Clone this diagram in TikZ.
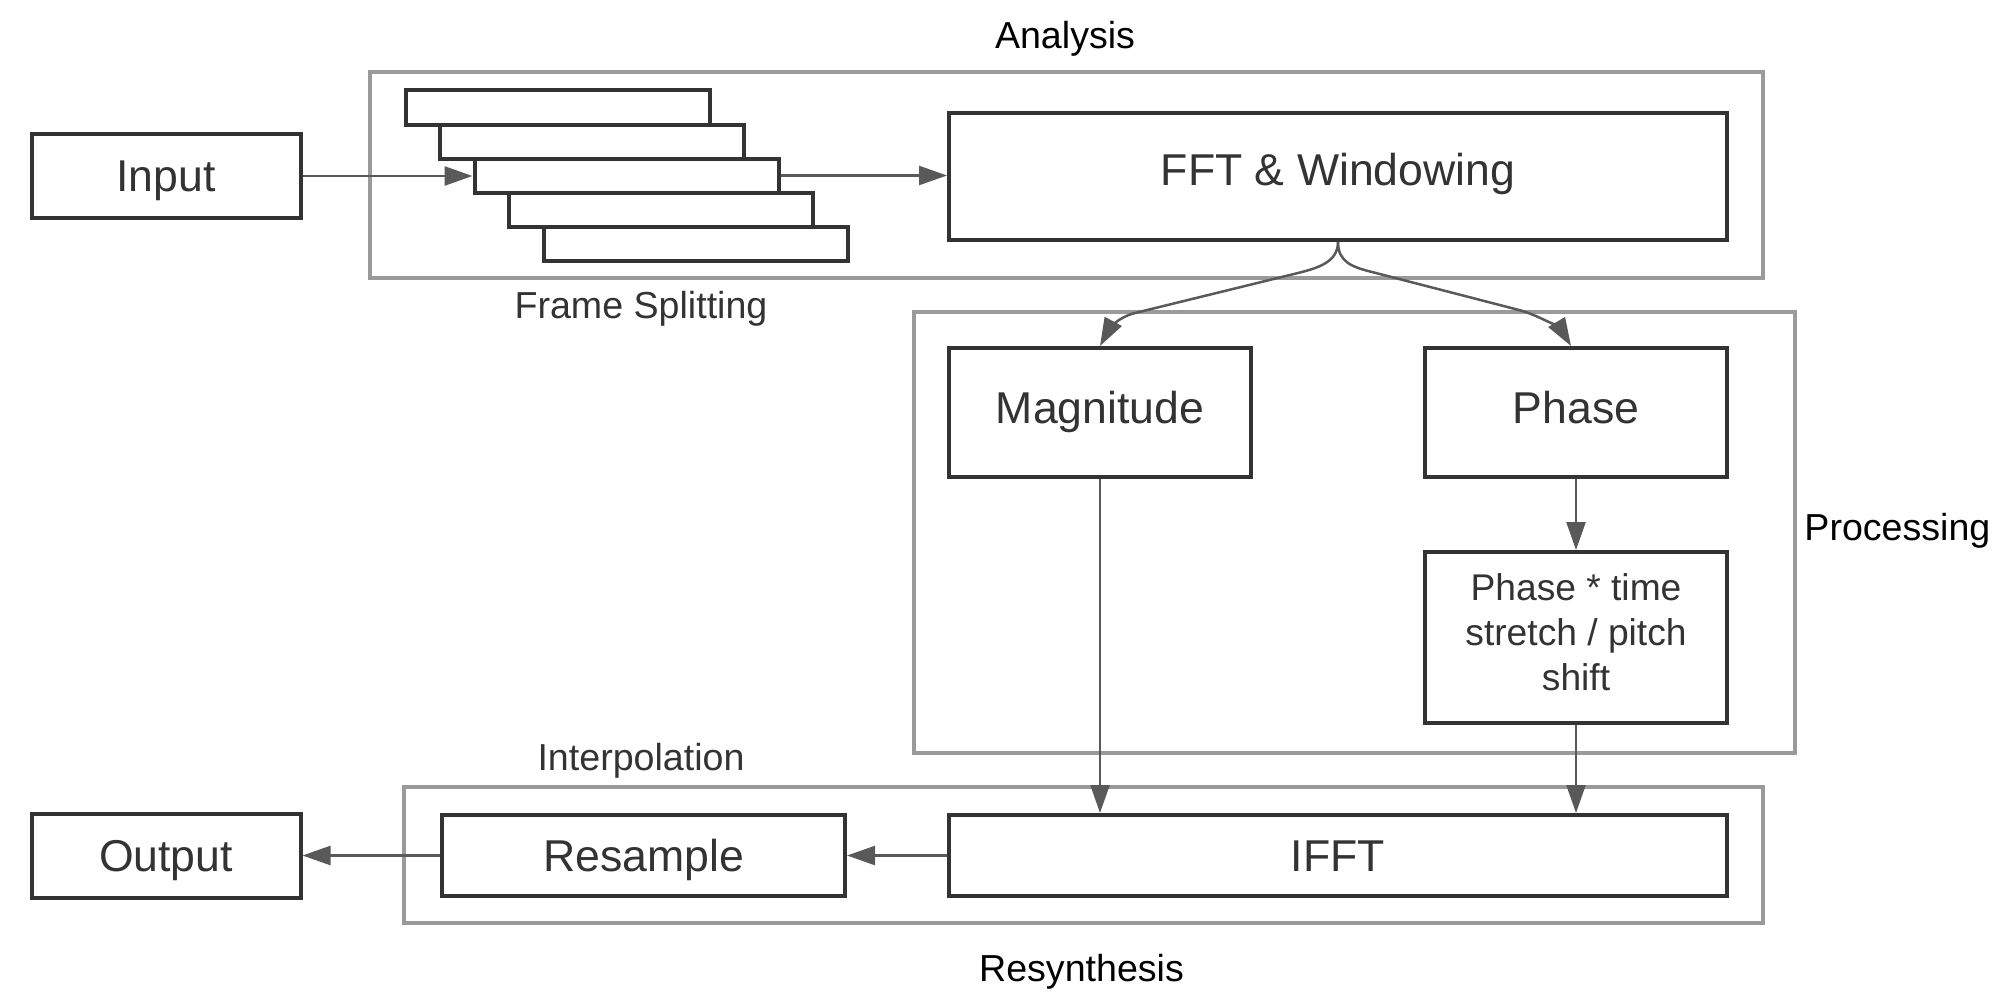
\documentclass[tikz,border=0pt]{standalone}
\usepackage{fontspec}
\setmainfont{Liberation Sans}
\usetikzlibrary{arrows.meta}
\definecolor{boxline}{HTML}{333333}
\definecolor{grpline}{HTML}{9A9A9A}
\definecolor{arrline}{HTML}{595959}
\definecolor{txt}{HTML}{333333}
\begin{document}
\begin{tikzpicture}[x=0.5pt,y=-0.5pt,
  box/.style={draw=boxline, line width=2pt, fill=white, inner sep=0pt, text=txt, font=\fontsize{22.3}{26}\selectfont, text height=15.8pt, text depth=0pt},
  framebox/.style={draw=boxline, line width=2pt, fill=white, inner sep=0pt, minimum width=152pt, minimum height=17pt},
  boxtext/.style={inner sep=0pt, text=txt, align=center, font=\fontsize{18.6}{22.5}\selectfont},
  group/.style={draw=grpline, line width=2pt},
  grouplabel/.style={font=\fontsize{18.8}{22}\selectfont, inner sep=0pt, anchor=base},
  arr/.style={draw=arrline, line width=1.25pt, -{Triangle[length=14pt,width=9.5pt]}},
]
\useasboundingbox (0,0) rectangle (2016,1006);

% group containers
\draw[group] (370,72) rectangle (1763,278);
\draw[group] (914,312) rectangle (1795,753);
\draw[group] (404,787) rectangle (1763,923);

% group labels
\node[grouplabel, text=black] (lanalysis) at (1065,48.3) {Analysis};
\node[grouplabel, text=txt] (lframes) at (641,318.3) {Frame Splitting};
\node[grouplabel, text=black, anchor=base west] (lproc) at (1804,540) {Processing};
\node[grouplabel, text=txt] (linterp) at (641,770) {Interpolation};
\node[grouplabel, text=black] (lresyn) at (1081.5,981.7) {Resynthesis};

% boxes
\node[box, minimum width=134.5pt, minimum height=42pt] (input) at (166,176) {Input};
\node[box, minimum width=134.5pt, minimum height=42pt] (output) at (166,855.5) {Output};
\node[box, minimum width=389pt, minimum height=63.5pt, text depth=7pt] (fft) at (1338,176.5) {FFT \& Windowing};
\node[box, minimum width=151pt, minimum height=64.5pt, text depth=5.25pt] (mag) at (1100,412.5) {Magnitude};
\node[box, minimum width=151pt, minimum height=64.5pt, text depth=5.25pt] (phase) at (1576,412.5) {Phase};
\node[box, minimum width=151pt, minimum height=85.5pt] (pts) at (1576,637.5) {};
\node[boxtext] (ptstext) at ([yshift=2.5pt]pts.center) {Phase * time\\stretch / pitch\\shift};
\node[box, minimum width=389pt, minimum height=40.5pt] (ifft) at (1338,855.5) {IFFT};
\node[box, minimum width=201.5pt, minimum height=40.5pt] (resample) at (643.5,855.5) {Resample};

% frames
\node[framebox] (f1) at (557.5,107.5) {};
\node[framebox] (f2) at (592,141.5) {};
\node[framebox] (f3) at (626.5,175.5) {};
\node[framebox] (f4) at (661,209.5) {};
\node[framebox] (f5) at (695.5,243.5) {};

% connectors
\draw[arr] (input.east) -- (input.east -| f3.west);
\draw[arr] (f3.east) -- (f3.east -| fft.west);
\draw[arr] (fft.south) .. controls +(0,20) and (1318,268) .. (1298,273)
  -- (1135,313) .. controls (1115,318) and (1107,333) .. (mag.north);
\draw[arr] (fft.south) .. controls +(0,20) and (1352,267) .. (1372,272)
  -- (1519,310) .. controls (1539,315) and (1562,331) .. ([xshift=-2.5pt]phase.north);
\draw[arr] (phase.south) -- (pts.north);
\draw[arr] (mag.south) -- (mag.south |- ifft.north);
\draw[arr] (pts.south) -- (pts.south |- ifft.north);
\draw[arr] (ifft.west) -- (resample.east);
\draw[arr] (resample.west) -- (output.east);
\end{tikzpicture}
\end{document}
